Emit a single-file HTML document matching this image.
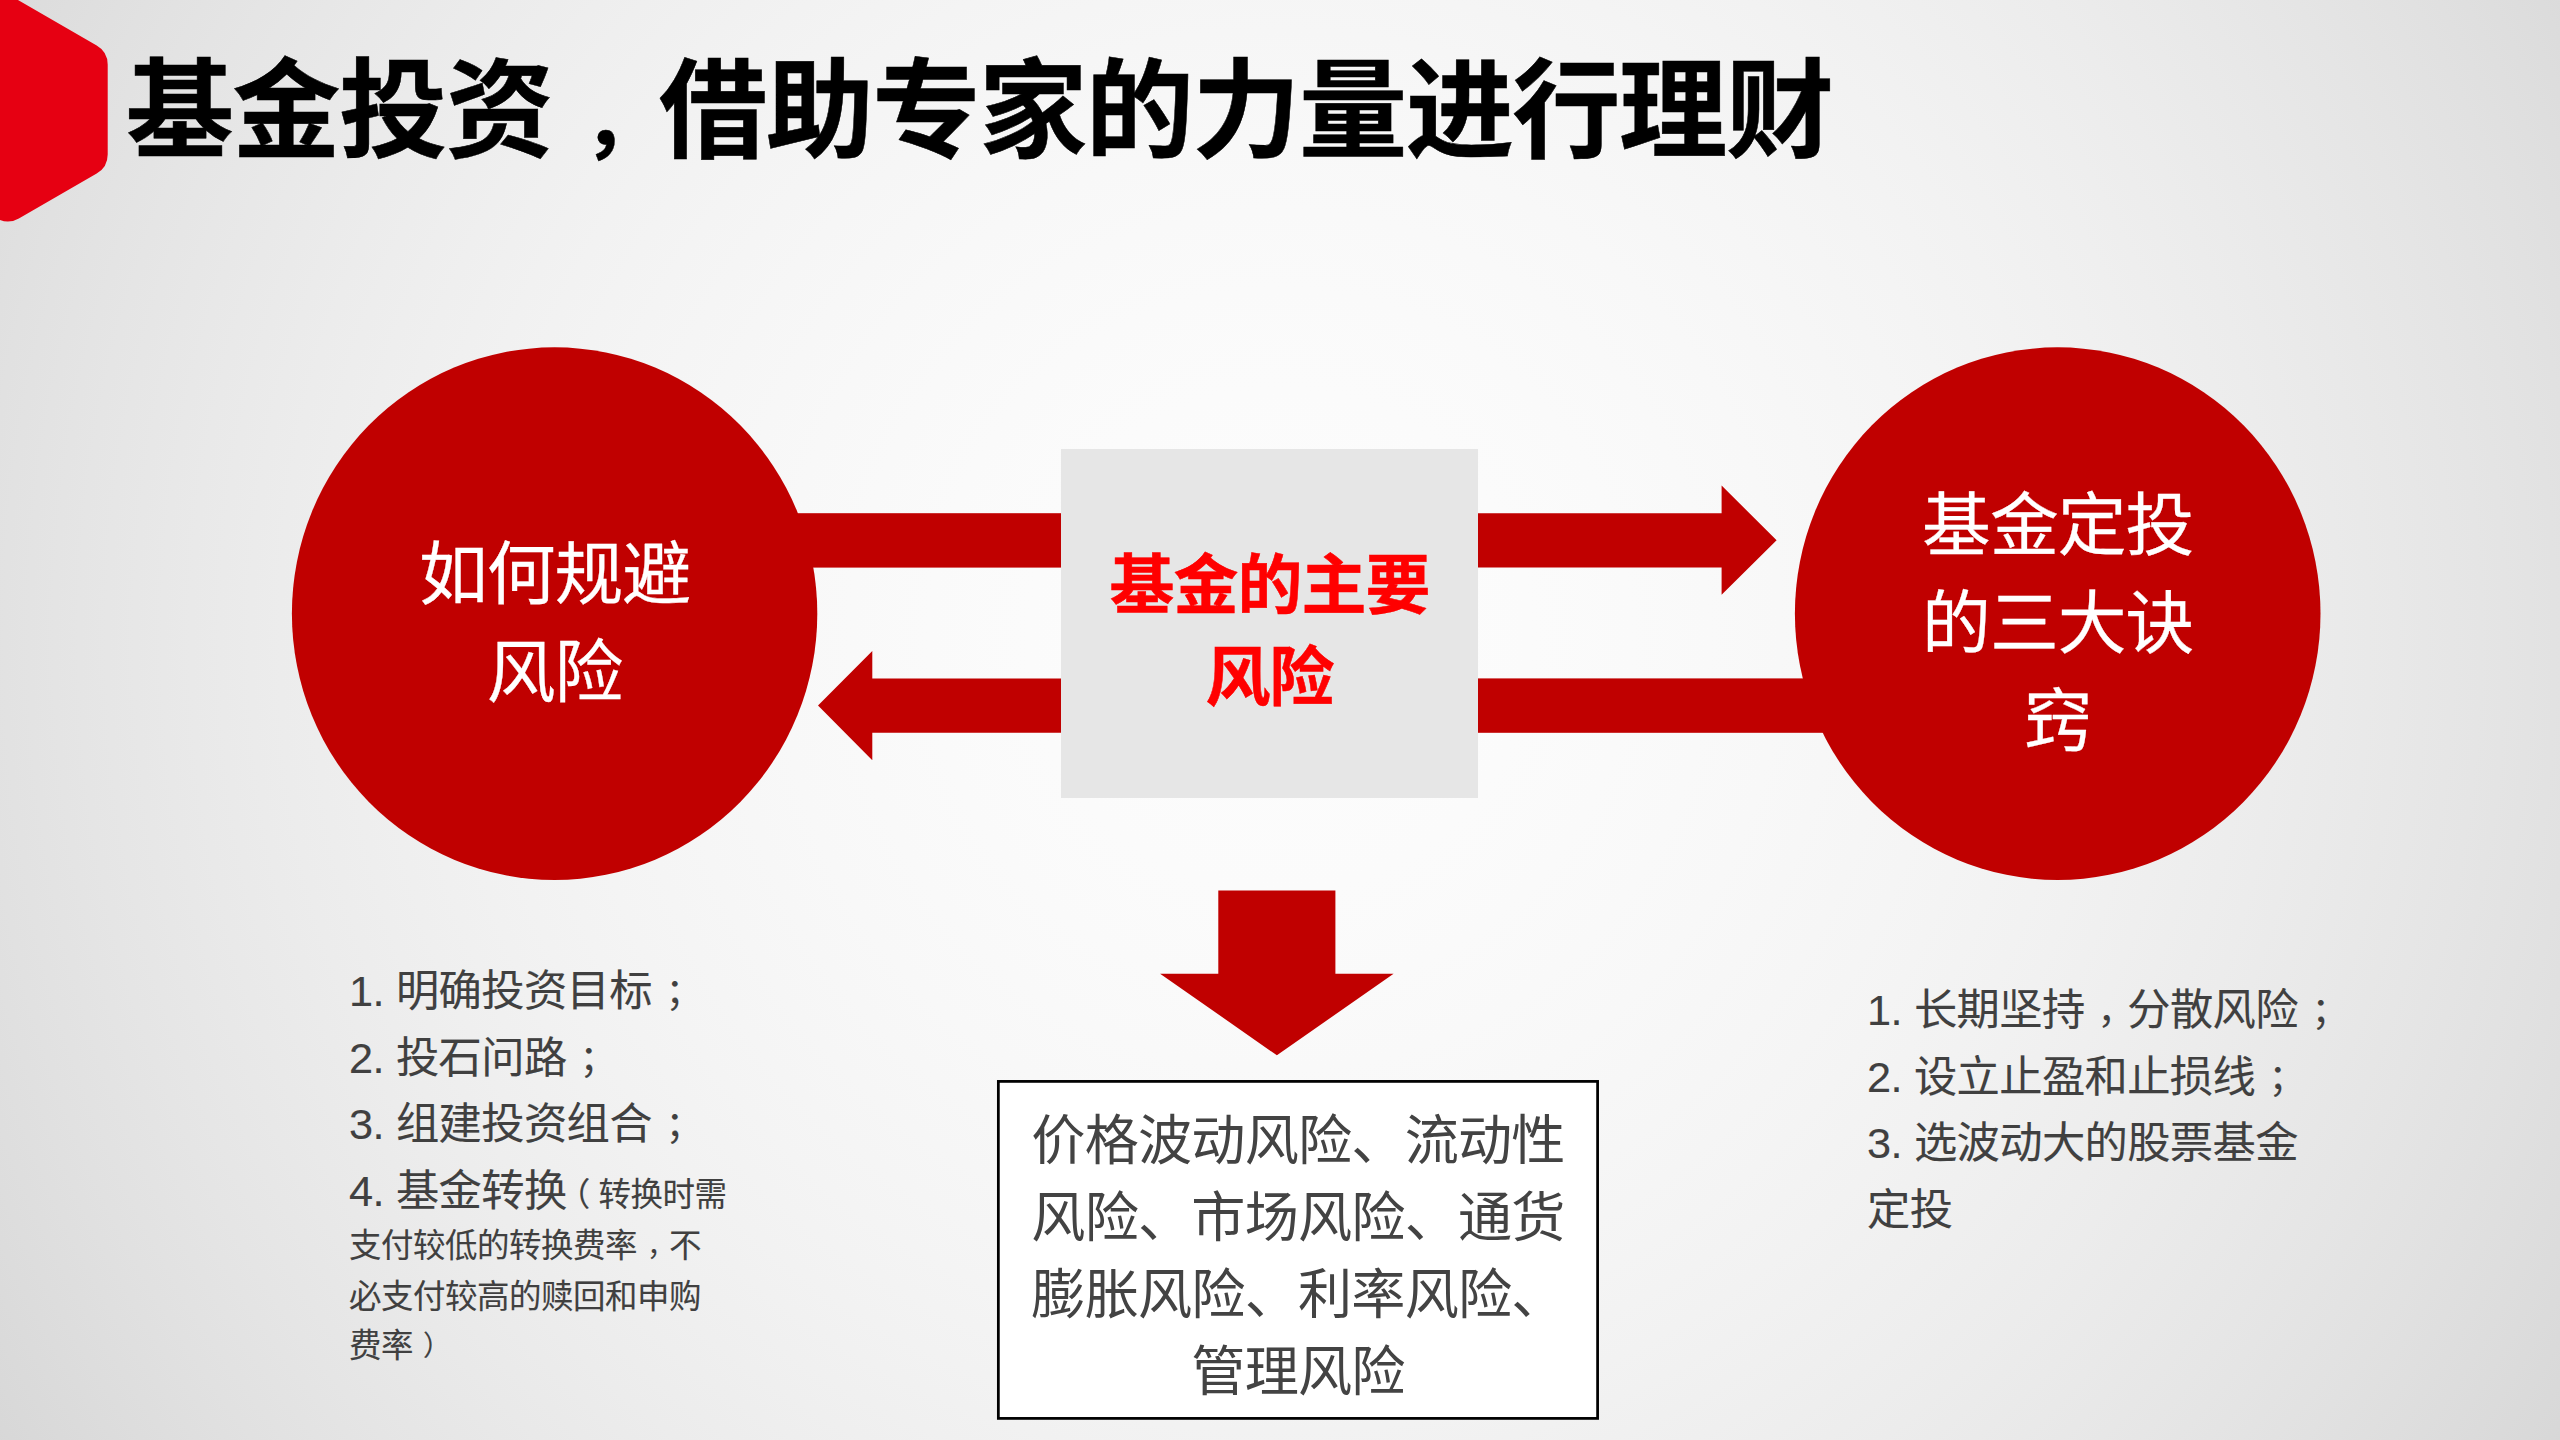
<!DOCTYPE html>
<html lang="zh-CN">
<head>
<meta charset="utf-8">
<title>基金投资，借助专家的力量进行理财</title>
<style>
  html, body { margin: 0; padding: 0; }
  body {
    width: 2560px; height: 1440px; overflow: hidden; position: relative;
    font-family: "Liberation Sans", "Noto Sans CJK SC", sans-serif;
    background: #ececec;
  }
  #bg {
    position: absolute; left: 0; top: 0; width: 2560px; height: 1440px;
    background: radial-gradient(circle 1600px at 1280px 640px, rgb(252.0,252.0,252.0) 0.00%, rgb(251.8,251.8,251.8) 6.25%, rgb(251.4,251.4,251.4) 12.50%, rgb(250.6,250.6,250.6) 18.75%, rgb(249.4,249.4,249.4) 25.00%, rgb(248.0,248.0,248.0) 31.25%, rgb(246.2,246.2,246.2) 37.50%, rgb(244.2,244.2,244.2) 43.75%, rgb(241.8,241.8,241.8) 50.00%, rgb(239.0,239.0,239.0) 56.25%, rgb(236.0,236.0,236.0) 62.50%, rgb(232.6,232.6,232.6) 68.75%, rgb(229.0,229.0,229.0) 75.00%, rgb(225.0,225.0,225.0) 81.25%, rgb(220.6,220.6,220.6) 87.50%, rgb(216.0,216.0,216.0) 93.75%, rgb(211.0,211.0,211.0) 100.00%);
  }
  svg#shapes { position: absolute; left: 0; top: 0; }
  .t { position: absolute; white-space: nowrap; margin: 0; }
  .cjk { font-family: "Liberation Sans", "Noto Sans CJK SC", sans-serif; }
  h1.title {
    left: 125.7px; top: 32.0px; font-size: 108.3px; line-height: 160px; font-weight: 700;
    color: #000; letter-spacing: -1.63px; -webkit-text-stroke: 0.5px #000;
  }
  .pc { position: relative; left: 0.27em; display: inline-block; transform: scale(0.86); transform-origin: 25% 62%; }
  h1.title .pc { display: inline-block; left: 23.5px; top: 3.7px; transform: scale(0.75); }
  .pl { position: relative; left: -0.27em; }
  .circ { -webkit-text-stroke: 0.3px #fff; color: #fff; font-size: 68.82px; letter-spacing: -1.02px; line-height: 98px; text-align: center; font-weight: 400; }
  .mid { color: #ff0000; font-size: 64.96px; letter-spacing: -0.96px; line-height: 92.4px; text-align: center; font-weight: 700; -webkit-text-stroke: 0.5px #ff0000; }
  .risk { color: #434343; font-size: 54.13px; letter-spacing: -0.80px; line-height: 76.9px; text-align: center; font-weight: 400; }
  .li { -webkit-text-stroke: 0.12px #404040; color: #404040; font-size: 43.31px; letter-spacing: -0.64px; word-spacing: 0.7px; line-height: 66.5px; font-weight: 400; }
  .sm { font-size: 32.48px; letter-spacing: -0.48px; }
  .lism { -webkit-text-stroke: 0.1px #404040; color: #404040; font-size: 32.48px; letter-spacing: -0.48px; line-height: 49.7px; font-weight: 400; }
</style>
</head>
<body>
<div id="bg"></div>
<svg id="shapes" width="2560" height="1440" viewBox="0 0 2560 1440">
  <!-- corner hexagon -->
  <path d="M -3.15 0.50 A 22 22 0 0 1 18.85 0.50 L 96.70 45.45 A 22 22 0 0 1 107.70 64.50 L 107.70 154.40 A 22 22 0 0 1 96.70 173.45 L 18.85 218.40 A 22 22 0 0 1 -3.15 218.40 L -81.00 173.45 A 22 22 0 0 1 -92.00 154.40 L -92.00 64.50 A 22 22 0 0 1 -81.00 45.45 Z" fill="#e60012"/>
  <!-- circles -->
  <ellipse cx="554.6" cy="613.65" rx="262.7" ry="266.3" fill="#c00000"/>
  <ellipse cx="2057.7" cy="613.65" rx="262.8" ry="266.3" fill="#c00000"/>
  <!-- bars + arrows -->
  <rect x="700" y="513.2" width="362" height="54.4" fill="#c00000"/>
  <path d="M 1062 678.6 L 872.3 678.6 L 872.3 651 L 818 705.6 L 872.3 760.2 L 872.3 732.8 L 1062 732.8 Z" fill="#c00000"/>
  <path d="M 1477 513.2 L 1721.6 513.2 L 1721.6 485.6 L 1776.6 540.2 L 1721.6 594.8 L 1721.6 567.6 L 1477 567.6 Z" fill="#c00000"/>
  <rect x="1477" y="678.4" width="440" height="54.4" fill="#c00000"/>
  <!-- centre box -->
  <rect x="1061" y="449" width="417" height="349" fill="#e6e6e6"/>
  <!-- down arrow -->
  <path d="M 1218.3 890.6 L 1335.4 890.6 L 1335.4 973.7 L 1393.6 973.7 L 1276.9 1055.3 L 1160.1 973.7 L 1218.3 973.7 Z" fill="#c00000"/>
  <!-- white box -->
  <rect x="998.35" y="1081.4" width="599.25" height="337" fill="#ffffff" stroke="#000000" stroke-width="2.75"/>
</svg>

<h1 class="t title cjk">基金投资<span class="pc">，</span>借助专家的力量进行理财</h1>

<div class="t circ cjk" style="left:354.5px; top:526.5px; width:400px;">如何规避<br>风险</div>
<div class="t circ cjk" style="left:1857.7px; top:477.6px; width:400px;">基金定投<br>的三大诀<br>窍</div>

<div class="t mid cjk" style="left:1061px; top:540.0px; width:417px;">基金的主要<br>风险</div>

<div class="t risk cjk" style="left:998px; top:1103.2px; width:600px;">价格波动风险、流动性<br>风险、市场风险、通货<br>膨胀风险、利率风险、<br>管理风险</div>

<div class="t li cjk" style="left:349px; top:958.4px;">1. 明确投资目标<span class="pc">；</span></div>
<div class="t li cjk" style="left:349px; top:1024.9px;">2. 投石问路<span class="pc">；</span></div>
<div class="t li cjk" style="left:349px; top:1091.4px;">3. 组建投资组合<span class="pc">；</span></div>
<div class="t li cjk" style="left:349px; top:1157.9px;">4. 基金转换<span class="sm"><span class="pl">（</span>转换时需</span></div>
<div class="t lism cjk" style="left:349px; top:1222.4px;">支付较低的转换费率<span class="pc">，</span>不</div>
<div class="t lism cjk" style="left:349px; top:1272.7px;">必支付较高的赎回和申购</div>
<div class="t lism cjk" style="left:349px; top:1321.7px;">费率<span class="pc">）</span></div>

<div class="t li cjk" style="left:1867px; top:976.7px;">1. 长期坚持<span class="pc">，</span>分散风险<span class="pc">；</span></div>
<div class="t li cjk" style="left:1867px; top:1043.5px;">2. 设立止盈和止损线<span class="pc">；</span></div>
<div class="t li cjk" style="left:1867px; top:1110.3px;">3. 选波动大的股票基金</div>
<div class="t li cjk" style="left:1867px; top:1177.1px;">定投</div>
</body>
</html>
